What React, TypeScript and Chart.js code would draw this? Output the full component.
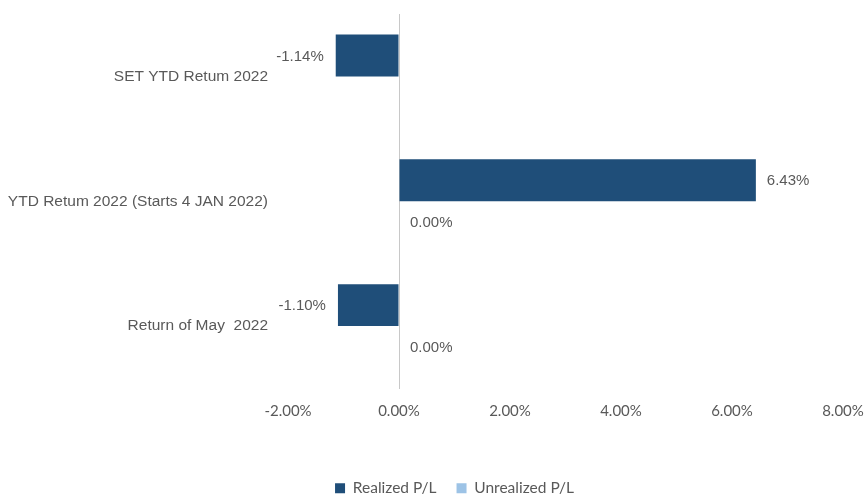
import React, { useEffect, useRef } from "react";
import { Chart, registerables } from "chart.js";

Chart.register(...registerables);

const categories = [
  "SET YTD Retum 2022",
  "YTD Retum 2022 (Starts 4 JAN 2022)",
  "Return of May  2022",
];
const realizedPL: (number | null)[] = [-1.14, 6.43, -1.1];
const unrealizedPL: (number | null)[] = [null, 0.0, 0.0];
const seriesNames = ["Realized P/L", "Unrealized P/L"];
const xMin = -2;
const xMax = 8;
const xStep = 2;

const TEXT = "#595959";
const DARK = "#1F4E79";
const LIGHT = "#9DC3E6";

const fmt = (v: number) => v.toFixed(2) + "%";

const LEGEND_DX = 33;
const LEGEND_DY = 9;

const valueLabels = {
  id: "valueLabels",
  afterDatasetsDraw(chart: any) {
    const ctx = chart.ctx;
    ctx.save();
    ctx.font = '15px "Liberation Sans"';
    ctx.fillStyle = TEXT;
    ctx.textBaseline = "middle";
    chart.data.datasets.forEach((ds: any, di: number) => {
      const meta = chart.getDatasetMeta(di);
      meta.data.forEach((el: any, i: number) => {
        const v = ds.data[i];
        if (v === null || v === undefined) return;
        const { x, y } = el.getProps(["x", "y"], true);
        if (v < 0) {
          ctx.textAlign = "right";
          ctx.fillText(fmt(v), x - 12, y + 1);
        } else {
          ctx.textAlign = "left";
          ctx.fillText(fmt(v), x + 11, y + 1);
        }
      });
    });
    ctx.restore();
  },
};

const legendShift = {
  id: "legendShift",
  afterLayout(chart: any) {
    const l = chart.legend;
    if (l) {
      l.left += LEGEND_DX;
      l.right += LEGEND_DX;
      l.top += LEGEND_DY;
      l.bottom += LEGEND_DY;
    }
  },
};

export default function App() {
  const ref = useRef<HTMLCanvasElement | null>(null);
  useEffect(() => {
    if (!ref.current) return;
    const chart = new Chart(ref.current, {
      type: "bar",
      data: {
        labels: categories,
        datasets: [
          {
            label: seriesNames[0],
            data: realizedPL,
            backgroundColor: DARK,
            borderWidth: 0,
            categoryPercentage: 0.672,
            barPercentage: 1,
          },
          {
            label: seriesNames[1],
            data: unrealizedPL,
            backgroundColor: LIGHT,
            borderWidth: 0,
            categoryPercentage: 0.672,
            barPercentage: 1,
          },
        ],
      },
      options: {
        indexAxis: "y",
        responsive: false,
        animation: false,
        layout: { padding: { top: 14, right: 22, left: 0, bottom: 0 } },
        scales: {
          x: {
            min: xMin,
            max: xMax,
            ticks: {
              stepSize: xStep,
              callback: (v: any) => fmt(Number(v)),
              color: TEXT,
              font: { family: "Lato", size: 15 },
              padding: 14,
              maxRotation: 0,
            },
            grid: {
              drawTicks: false,
              color: (c: any) => (c.tick && c.tick.value === 0 ? "#C8C8C8" : "rgba(0,0,0,0)"),
            },
            border: { display: false },
            afterFit: (s: any) => {
              s.height = 63;
              s.paddingLeft = 0;
              s.paddingRight = 0;
            },
          },
          y: {
            ticks: {
              color: TEXT,
              font: { family: "Liberation Sans", size: 15.5 },
              padding: 20,
            },
            grid: { display: false, drawTicks: false },
            border: { display: false },
            afterFit: (s: any) => {
              s.width = 288;
              s.paddingTop = 0;
              s.paddingBottom = 0;
            },
          },
        },
        plugins: {
          legend: {
            position: "bottom",
            labels: {
              boxWidth: 10,
              boxHeight: 10,
              color: TEXT,
              font: { family: "Lato", size: 15.5 },
              padding: 20,
            },
          },
          tooltip: { enabled: false },
        },
      },
      plugins: [valueLabels, legendShift],
    });
    return () => chart.destroy();
  }, []);
  return (
    <div style={{ position: "fixed", left: 0, top: 0, width: 865, height: 497, background: "#fff" }}>
      <canvas ref={ref} width={865} height={497} />
    </div>
  );
}
